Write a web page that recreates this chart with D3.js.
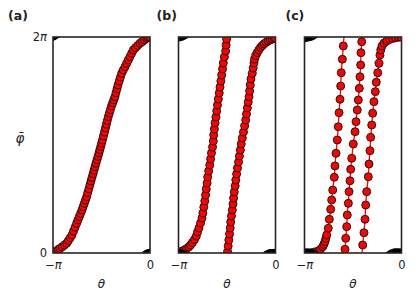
<!DOCTYPE html>
<html><head><meta charset="utf-8">
<script src="https://cdn.jsdelivr.net/npm/d3@7"></script>
<style>body{margin:0;background:#fff} svg{display:block} text{font-family:"DejaVu Sans",sans-serif}</style>
</head><body><svg id="chart" width="415" height="300"></svg>
<script>
// ---------- data (theta in units of pi, phi-bar in units of pi) ----------
const thetaTicks = [-1, 0];
const thetaTickLabels = [["−", "π"], ["0", ""]];
const phiTicks = [0, 2];
const phiTickLabels = [["0", ""], ["2", "π"]];
const panelLabels = ["(a)", "(b)", "(c)"];

// panel (a): one branch
const aPoints = [[-1.000,0.000],[-0.990,0.005],[-0.979,0.012],[-0.962,0.022],[-0.945,0.032],[-0.928,0.042],[-0.905,0.057],[-0.882,0.073],[-0.859,0.090],[-0.841,0.115],[-0.822,0.141],[-0.804,0.167],[-0.788,0.203],[-0.772,0.239],[-0.756,0.275],[-0.742,0.306],[-0.728,0.337],[-0.715,0.367],[-0.701,0.398],[-0.689,0.429],[-0.677,0.460],[-0.665,0.490],[-0.653,0.521],[-0.642,0.558],[-0.630,0.594],[-0.619,0.631],[-0.608,0.667],[-0.598,0.700],[-0.587,0.733],[-0.577,0.766],[-0.567,0.799],[-0.557,0.831],[-0.546,0.863],[-0.536,0.894],[-0.526,0.926],[-0.517,0.956],[-0.508,0.986],[-0.499,1.016],[-0.490,1.046],[-0.480,1.083],[-0.469,1.120],[-0.459,1.157],[-0.449,1.192],[-0.440,1.227],[-0.430,1.262],[-0.419,1.295],[-0.408,1.328],[-0.397,1.361],[-0.385,1.390],[-0.373,1.418],[-0.361,1.447],[-0.351,1.483],[-0.340,1.520],[-0.330,1.556],[-0.317,1.592],[-0.305,1.628],[-0.292,1.664],[-0.275,1.695],[-0.257,1.725],[-0.240,1.756],[-0.223,1.787],[-0.206,1.818],[-0.189,1.849],[-0.172,1.880],[-0.149,1.901],[-0.126,1.921],[-0.103,1.942],[-0.080,1.957],[-0.057,1.973],[-0.034,1.988],[-0.017,1.995],[0.000,2.000]];
const aWrapPoints = [[0.000,0.000]];
const aWrapTop = [[-1.000,1.962],[-0.975,1.972],[-0.950,1.985],[-0.925,2.000]];
const aWrapBottom = [[-0.087,0.000],[-0.060,0.022],[-0.030,0.034],[0.000,0.036]];

// panel (b): two branches
const b1Points = [[-1.000,0.000],[-0.995,0.006],[-0.979,0.011],[-0.959,0.019],[-0.938,0.028],[-0.918,0.040],[-0.894,0.056],[-0.876,0.074],[-0.856,0.097],[-0.835,0.125],[-0.816,0.157],[-0.804,0.194],[-0.789,0.231],[-0.773,0.278],[-0.758,0.324],[-0.749,0.370],[-0.739,0.426],[-0.729,0.481],[-0.721,0.537],[-0.714,0.593],[-0.705,0.648],[-0.699,0.704],[-0.689,0.759],[-0.678,0.815],[-0.669,0.870],[-0.660,0.926],[-0.649,0.981],[-0.641,1.037],[-0.637,1.093],[-0.630,1.148],[-0.623,1.204],[-0.614,1.259],[-0.606,1.315],[-0.598,1.370],[-0.589,1.426],[-0.580,1.481],[-0.572,1.537],[-0.563,1.593],[-0.555,1.648],[-0.546,1.704],[-0.538,1.759],[-0.527,1.815],[-0.514,1.870],[-0.509,1.926],[-0.504,1.981]];
const b1LineEnd = [[-0.503,2.000]];
const b2LineStart = [[-0.495,0.000]];
const b2Points = [[-0.494,0.009],[-0.488,0.065],[-0.481,0.120],[-0.474,0.176],[-0.467,0.231],[-0.462,0.287],[-0.454,0.343],[-0.445,0.398],[-0.438,0.454],[-0.432,0.509],[-0.425,0.565],[-0.416,0.620],[-0.409,0.676],[-0.401,0.731],[-0.392,0.787],[-0.381,0.843],[-0.372,0.898],[-0.362,0.954],[-0.353,1.009],[-0.342,1.065],[-0.330,1.120],[-0.318,1.176],[-0.307,1.231],[-0.299,1.287],[-0.290,1.343],[-0.281,1.398],[-0.273,1.447],[-0.267,1.500],[-0.260,1.556],[-0.253,1.611],[-0.239,1.664],[-0.230,1.713],[-0.222,1.759],[-0.215,1.796],[-0.203,1.829],[-0.188,1.856],[-0.172,1.880],[-0.155,1.903],[-0.136,1.921],[-0.117,1.937],[-0.096,1.951],[-0.075,1.963],[-0.055,1.972],[-0.034,1.980],[-0.013,1.986],[0.000,1.990]];
const bWrapPoints = [[0.000,0.000]];
const bWrapTop = [[-1.000,1.958],[-0.960,1.966],[-0.930,1.977],[-0.900,1.990],[-0.880,2.000]];
const bBandBottom = [[-1.000,0.035],[-0.950,0.030],[-0.910,0.015],[-0.880,0.000]];
const bWrapBottom = [[-0.135,0.000],[-0.100,0.022],[-0.050,0.036],[0.000,0.036]];

// panel (c): three branches
const c1LineStart = [[-1.000,0.000]];
const c1Points = [[-0.961,0.000],[-0.926,0.003],[-0.892,0.009],[-0.858,0.019],[-0.835,0.035],[-0.812,0.058],[-0.800,0.080],[-0.789,0.105],[-0.780,0.135],[-0.771,0.167],[-0.755,0.229],[-0.744,0.312],[-0.730,0.405],[-0.720,0.491],[-0.709,0.583],[-0.693,0.701],[-0.686,0.806],[-0.675,0.923],[-0.662,1.046],[-0.652,1.169],[-0.644,1.299],[-0.634,1.423],[-0.627,1.546],[-0.621,1.669],[-0.610,1.794],[-0.600,1.917]];
const c1LineEnd = [[-0.593,2.000]];
const c2LineStart = [[-0.588,0.000]];
const c2Points = [[-0.582,0.034],[-0.575,0.136],[-0.565,0.244],[-0.559,0.352],[-0.548,0.460],[-0.541,0.568],[-0.531,0.669],[-0.524,0.775],[-0.513,0.877],[-0.497,1.009],[-0.479,1.123],[-0.469,1.216],[-0.456,1.324],[-0.445,1.417],[-0.435,1.525],[-0.428,1.632],[-0.421,1.741],[-0.418,1.855],[-0.410,1.956]];
const c2LineEnd = [[-0.406,2.000]];
const c3LineStart = [[-0.407,0.000]];
const c3Points = [[-0.400,0.074],[-0.387,0.188],[-0.376,0.312],[-0.369,0.444],[-0.359,0.568],[-0.342,0.706],[-0.335,0.824],[-0.325,0.947],[-0.318,1.071],[-0.307,1.185],[-0.297,1.294],[-0.284,1.401],[-0.270,1.494],[-0.260,1.581],[-0.245,1.669],[-0.232,1.756],[-0.222,1.833],[-0.214,1.880],[-0.201,1.917],[-0.180,1.944],[-0.153,1.963],[-0.124,1.977],[-0.093,1.986],[-0.062,1.993],[-0.031,1.997],[-0.005,2.000]];
const cWrapPoints = [[0.000,0.000]];
const cWrapTop = [[-1.000,1.950],[-0.950,1.960],[-0.900,1.975],[-0.860,2.000]];
const cBandBottom = [[-1.000,0.045],[-0.930,0.040],[-0.880,0.022],[-0.840,0.000]];
const cWrapBottom = [[-0.170,0.000],[-0.120,0.030],[-0.060,0.045],[0.000,0.042]];

// ---------- drawing ----------
const svg = d3.select('#chart');
const PW = 97, TOP = 37, BOT = 253;
const y = d3.scaleLinear().domain([0, 2]).range([BOT, TOP]);
const R = 4.0;

const panels = [
  { left: 53, labelX: 8, label: panelLabels[0], yAxis: true, lineColor: '#000',
    lines: [aPoints],
    points: [aPoints, aWrapPoints],
    topBands: [aWrapTop], bottomBands: [aWrapBottom] },
  { left: 178.5, labelX: 156.5, label: panelLabels[1], yAxis: false, lineColor: '#000',
    lines: [b1Points.concat(b1LineEnd), b2LineStart.concat(b2Points)],
    points: [b1Points, b2Points, bWrapPoints],
    topBands: [bWrapTop], bottomBands: [bBandBottom, bWrapBottom] },
  { left: 304.5, labelX: 285.5, label: panelLabels[2], yAxis: false, lineColor: '#f00',
    lines: [c1LineStart.concat(c1Points, c1LineEnd), c2LineStart.concat(c2Points, c2LineEnd), c3LineStart.concat(c3Points)],
    points: [c1Points, c2Points, c3Points, cWrapPoints],
    topBands: [cWrapTop], bottomBands: [cBandBottom, cWrapBottom] }
];

function mathLabel(sel, parts, size) {
  sel.text(null);
  sel.append('tspan').text(parts[0]);
  if (parts[1]) sel.append('tspan').attr('font-style', 'italic').text(parts[1]);
  sel.attr('font-size', size);
}

panels.forEach((p, pi) => {
  const x = d3.scaleLinear().domain([-1, 0]).range([p.left, p.left + PW]);
  const clipId = 'clip' + pi;
  svg.append('clipPath').attr('id', clipId).append('rect')
    .attr('x', p.left).attr('y', TOP).attr('width', PW).attr('height', BOT - TOP);
  const g = svg.append('g').attr('clip-path', `url(#${clipId})`);

  const line = d3.line().x(d => x(d[0])).y(d => y(d[1]));
  p.lines.forEach(l => {
    g.append('path').attr('d', line(l)).attr('fill', 'none')
      .attr('stroke', p.lineColor).attr('stroke-width', 1.3);
  });
  p.points.forEach(arr => {
    g.selectAll(null).data(arr).enter().append('circle')
      .attr('cx', d => x(d[0])).attr('cy', d => y(d[1])).attr('r', R)
      .attr('fill', '#ff0000').attr('stroke', '#111').attr('stroke-width', 0.9);
  });
  const topArea = d3.area().x(d => x(d[0])).y0(y(2)).y1(d => y(d[1])).curve(d3.curveMonotoneX);
  const botArea = d3.area().x(d => x(d[0])).y0(y(0)).y1(d => y(d[1])).curve(d3.curveMonotoneX);
  p.topBands.forEach(b => g.append('path').attr('d', topArea(b)).attr('fill', '#000'));
  p.bottomBands.forEach(b => g.append('path').attr('d', botArea(b)).attr('fill', '#000'));

  // frame
  svg.append('rect').attr('x', p.left).attr('y', TOP).attr('width', PW).attr('height', BOT - TOP)
    .attr('fill', 'none').attr('stroke', '#262626').attr('stroke-width', 1.6);

  // x axis labels
  const xa = svg.append('g').attr('transform', `translate(0,${BOT})`)
    .call(d3.axisBottom(x).tickValues(thetaTicks).tickSize(0).tickPadding(8));
  xa.select('.domain').remove();
  xa.selectAll('text').attr('fill', '#222').each(function(d, i) { mathLabel(d3.select(this), thetaTickLabels[i], 11.5); });

  if (p.yAxis) {
    const ya = svg.append('g').attr('transform', `translate(${p.left},0)`)
      .call(d3.axisLeft(y).tickValues(phiTicks).tickSize(0).tickPadding(6));
    ya.select('.domain').remove();
    ya.selectAll('text').attr('fill', '#222').each(function(d, i) { mathLabel(d3.select(this), phiTickLabels[i], 11.5); });
    svg.append('text').attr('x', 20).attr('y', 143).attr('text-anchor', 'middle')
      .attr('font-size', 13.5).attr('font-style', 'italic').attr('fill', '#222').text('\u03C6\u0304');
  }
  svg.append('text').attr('x', p.left + PW / 2).attr('y', 288).attr('text-anchor', 'middle')
    .attr('font-size', 12).attr('font-style', 'italic').attr('fill', '#222').text('θ');
  svg.append('text').attr('x', p.labelX).attr('y', 20).attr('font-size', 12.5)
    .attr('font-weight', 'bold').attr('fill', '#222').text(p.label);
});
</script></body></html>
